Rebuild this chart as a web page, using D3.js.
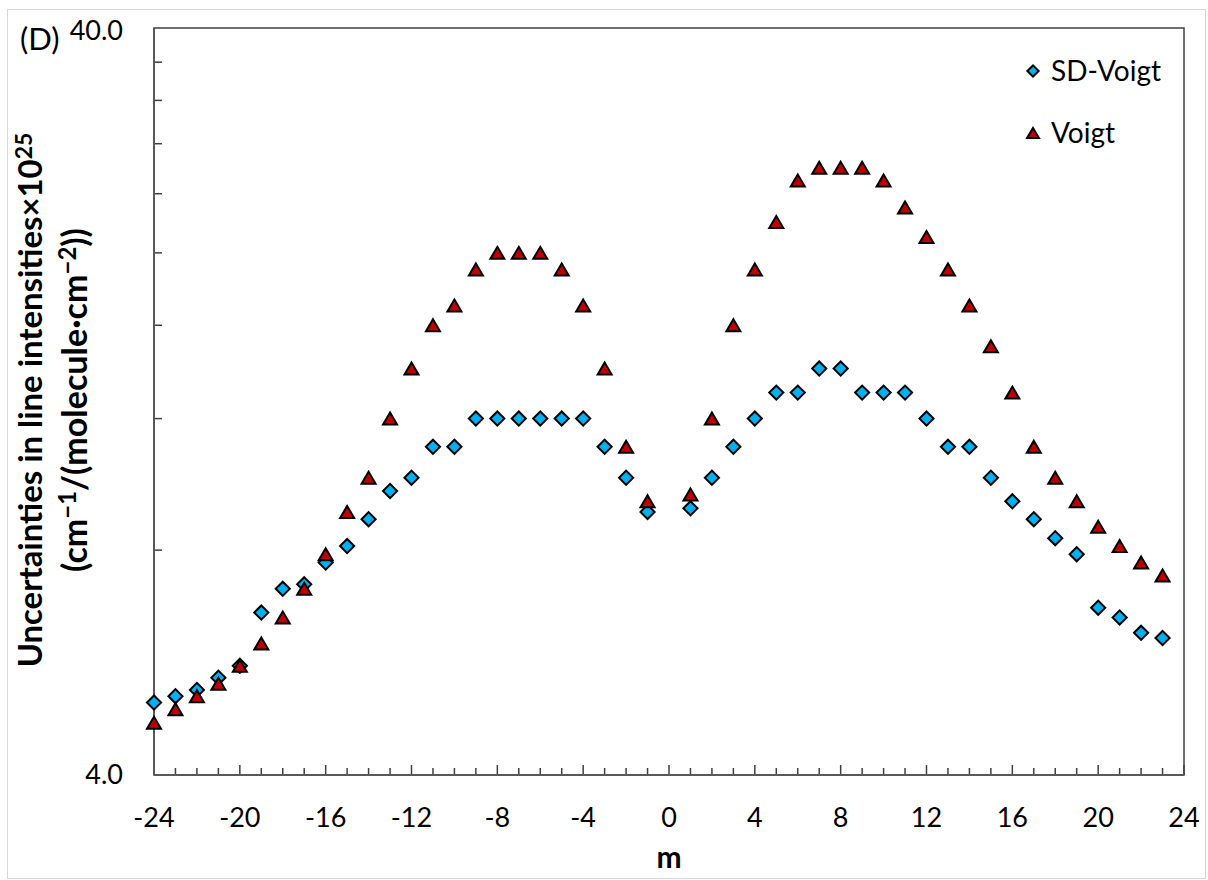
<!DOCTYPE html>
<html>
<head>
<meta charset="utf-8">
<script src="https://cdn.jsdelivr.net/npm/d3@7"></script>
<style>
  html, body { margin: 0; padding: 0; background: #ffffff; }
  svg { display: block; }
  text { font-family: Lato, "Open Sans", sans-serif; fill: #000; }
</style>
</head>
<body>
<svg id="chart" width="1208" height="880"></svg>
<script>
// ---- data ----
const mValues = [-24,-23,-22,-21,-20,-19,-18,-17,-16,-15,-14,-13,-12,-11,-10,-9,-8,-7,-6,-5,-4,-3,-2,-1,
                 1,2,3,4,5,6,7,8,9,10,11,12,13,14,15,16,17,18,19,20,21,22,23];
const sdVoigt = [5.0,5.1,5.2,5.4,5.6,6.6,7.1,7.2,7.7,8.1,8.8,9.6,10,11,11,12,12,12,12,12,12,11,10,9.0,
                 9.1,10,11,12,13,13,14,14,13,13,13,12,11,11,10,9.3,8.8,8.3,7.9,6.7,6.5,6.2,6.1];
const voigt   = [4.7,4.9,5.1,5.3,5.6,6.0,6.5,7.1,7.9,9.0,10,12,14,16,17,19,20,20,20,19,17,14,11,9.3,
                 9.5,12,16,19,22,25,26,26,26,25,23,21,19,17,15,13,11,10,9.3,8.6,8.1,7.7,7.4];
const seriesNames = ["SD-Voigt", "Voigt"];
const xTickLabels = [-24,-20,-16,-12,-8,-4,0,4,8,12,16,20,24];
const xMinorTicks = d3.range(-24, 25, 1);
const yLabelTicks = [4, 40];
const yMinorTicks = [8,12,16,20,24,28,32,36];

// ---- layout ----
const svg = d3.select("#chart");
const W = 1208, H = 880;
const pL = 154, pR = 1184, pT = 28, pB = 775;

svg.append("rect").attr("x", 7.5).attr("y", 9.5).attr("width", W - 10).attr("height", H - 11)
  .attr("fill", "#fff").attr("stroke", "#d9d9d9").attr("stroke-width", 1);

const x = d3.scaleLinear().domain([-24, 24]).range([pL, pR]);
const y = d3.scaleLog().domain([4, 40]).range([pB, pT]);

// plot border (top & right)
svg.append("rect").attr("x", pL).attr("y", pT).attr("width", pR - pL).attr("height", pB - pT)
  .attr("fill", "none").attr("stroke", "#404040").attr("stroke-width", 1.5);

// ---- x axis ----
const gx = svg.append("g");
gx.selectAll("line.minor").data(xMinorTicks).join("line")
  .attr("x1", d => x(d)).attr("x2", d => x(d))
  .attr("y1", pB).attr("y2", d => pB - (d % 4 === 0 ? 10 : 7))
  .attr("stroke", "#404040").attr("stroke-width", 1.5);
gx.append("line").attr("x1", pL).attr("x2", pR).attr("y1", pB).attr("y2", pB)
  .attr("stroke", "#595959").attr("stroke-width", 2);
gx.selectAll("text").data(xTickLabels).join("text")
  .attr("x", d => x(d)).attr("y", 817).attr("dy", "0.36em")
  .attr("text-anchor", "middle").attr("font-size", 27)
  .text(d => d);

svg.append("text").attr("x", x(0)).attr("y", 859).attr("dy", "0.3em")
  .attr("text-anchor", "middle").attr("font-size", 30).attr("font-weight", "bold").text("m");

// ---- y axis ----
const gy = svg.append("g");
gy.selectAll("line").data(yMinorTicks).join("line")
  .attr("x1", pL).attr("x2", pL + 8)
  .attr("y1", d => y(d)).attr("y2", d => y(d))
  .attr("stroke", "#404040").attr("stroke-width", 1.5);
gy.append("line").attr("x1", pL).attr("x2", pL).attr("y1", pT).attr("y2", pB)
  .attr("stroke", "#595959").attr("stroke-width", 2);
gy.selectAll("text").data(yLabelTicks).join("text")
  .attr("x", 123).attr("y", d => y(d) + (d === 40 ? 2 : -1)).attr("dy", "0.36em")
  .attr("text-anchor", "end").attr("font-size", 27)
  .text(d => d.toFixed(1));

svg.append("text").attr("x", 20).attr("y", 50).attr("font-size", 31).text("(D)");

// y title
function fitLine(sel, target) {
  const len = sel.node().getComputedTextLength();
  const fs = +sel.attr("font-size");
  sel.attr("font-size", fs * target / len);
}
const t1 = svg.append("text")
  .attr("transform", "translate(42,400) rotate(-90)")
  .attr("text-anchor", "middle").attr("font-size", 28).attr("font-weight", "bold");
t1.append("tspan").text("Uncertainties in line intensities×10");
t1.append("tspan").attr("dy", "-0.45em").attr("font-size", "0.7em").text("25");
fitLine(t1, 535);

const t2 = svg.append("text")
  .attr("transform", "translate(87,400) rotate(-90)")
  .attr("text-anchor", "middle").attr("font-size", 28).attr("font-weight", "bold");
t2.append("tspan").text("(cm");
t2.append("tspan").attr("dy", "-0.45em").attr("font-size", "0.7em").text("−1");
t2.append("tspan").attr("dy", "0.315em").text("/(molecule·cm");
t2.append("tspan").attr("dy", "-0.45em").attr("font-size", "0.7em").text("−2");
t2.append("tspan").attr("dy", "0.315em").text("))");
fitLine(t2, 344);

// ---- markers ----
const diamond = d3.symbol().type(d3.symbolSquare).size(100);
function triPath(s, h) {
  const p = d3.path();
  p.moveTo(0, -h / 2); p.lineTo(s / 2, h / 2); p.lineTo(-s / 2, h / 2); p.closePath();
  return p.toString();
}
const colors = { "SD-Voigt": "#00B0F0", "Voigt": "#C00000" };

const sdData = mValues.map((m, i) => ({ m, v: sdVoigt[i] }));
const vData = mValues.map((m, i) => ({ m, v: voigt[i] }));

svg.append("g").selectAll("path").data(sdData).join("path")
  .attr("d", diamond())
  .attr("transform", d => `translate(${x(d.m)},${y(d.v)}) rotate(45)`)
  .attr("fill", colors["SD-Voigt"]).attr("stroke", "#000").attr("stroke-width", 2);

svg.append("g").selectAll("path").data(vData).join("path")
  .attr("d", triPath(14, 12))
  .attr("transform", d => `translate(${x(d.m)},${y(d.v)})`)
  .attr("fill", colors["Voigt"]).attr("stroke", "#000").attr("stroke-width", 2).attr("stroke-linejoin", "miter");

// ---- legend ----
const lg = svg.append("g");
const legendRows = [{ name: seriesNames[0], yy: 71 }, { name: seriesNames[1], yy: 133 }];
lg.selectAll("path").data(legendRows).join("path")
  .attr("d", d => d.name === "Voigt" ? triPath(12, 10) : d3.symbol().type(d3.symbolSquare).size(64)())
  .attr("transform", d => `translate(1033,${d.yy})` + (d.name === "Voigt" ? "" : " rotate(45)"))
  .attr("fill", d => colors[d.name]).attr("stroke", "#000").attr("stroke-width", 2);
lg.selectAll("text").data(legendRows).join("text")
  .attr("x", 1051).attr("y", d => d.yy).attr("dy", "0.36em")
  .attr("font-size", 28).text(d => d.name);
</script>
</body>
</html>
